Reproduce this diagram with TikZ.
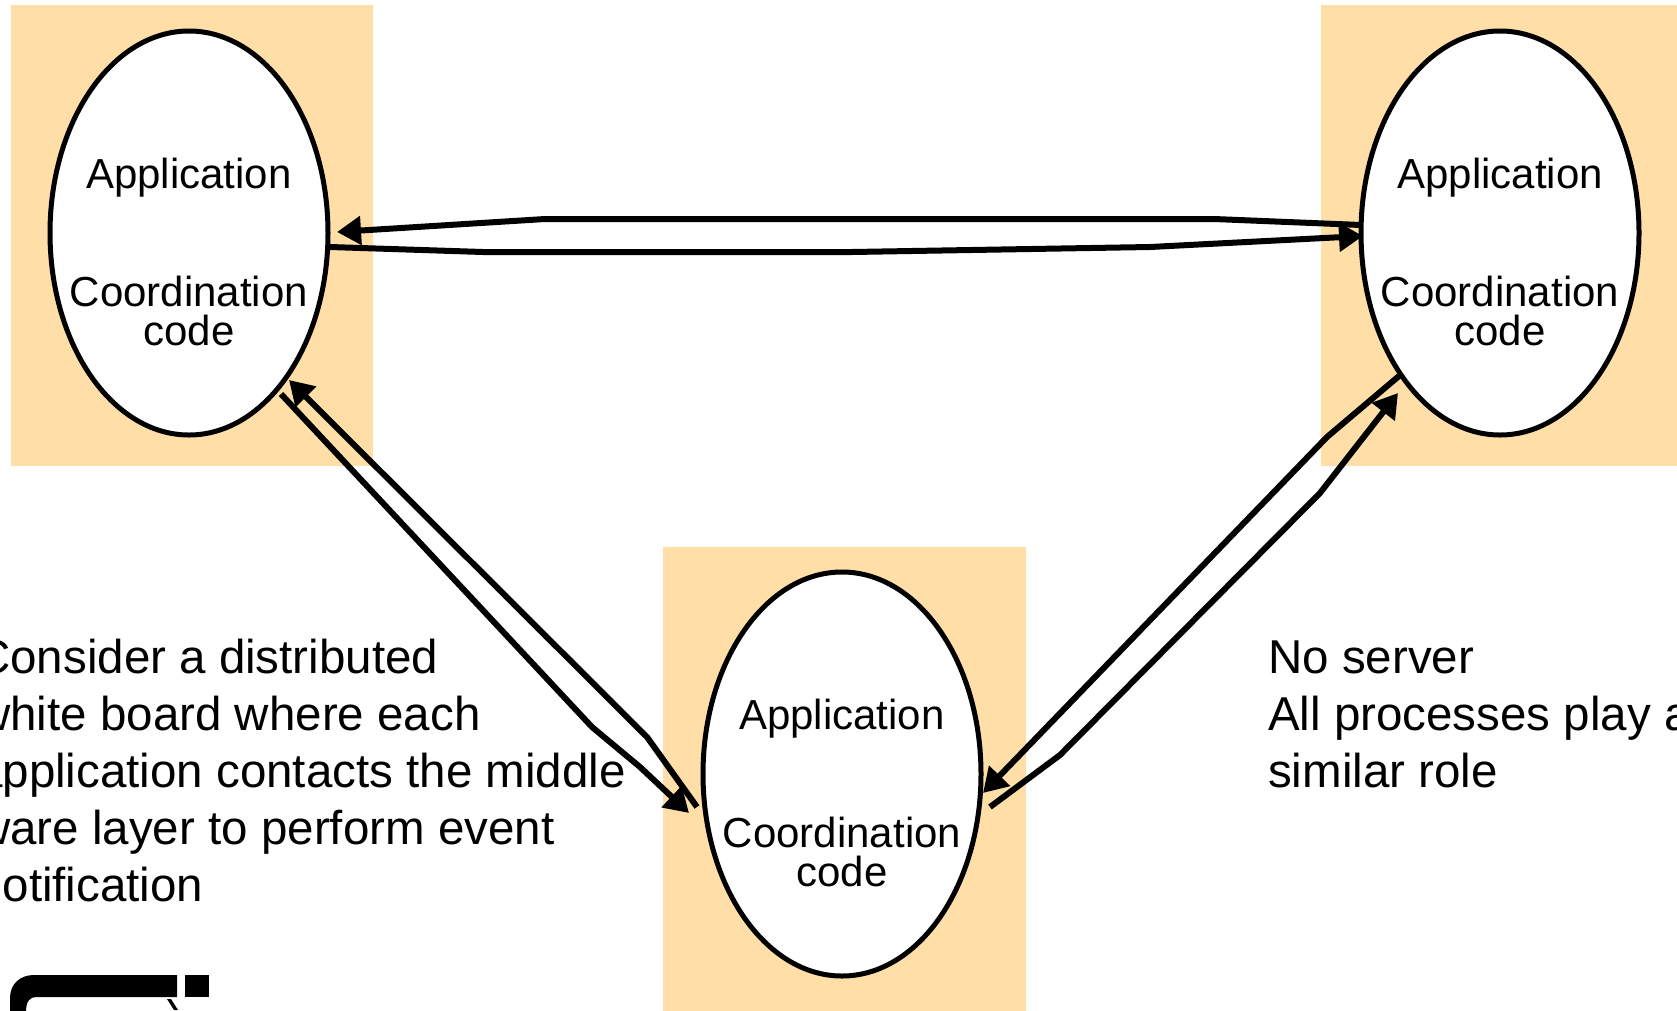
\documentclass[tikz,border=0pt]{standalone}
\usepackage{fontspec}
\setmainfont{Liberation Sans}
\usetikzlibrary{arrows.meta,shapes.geometric,calc}
\definecolor{procbg}{RGB}{255,223,167}
\begin{document}
\begin{tikzpicture}[x=1pt,y=-1pt,
  proc/.style={ellipse,draw=black,line width=5pt,fill=white,minimum width=278pt,minimum height=404pt,inner sep=0pt,outer sep=0pt},
  lbl/.style={anchor=base,inner sep=0pt,font=\fontsize{42}{42}\selectfont},
  side/.style={anchor=base west,inner sep=0pt,font=\fontsize{47.5}{57}\selectfont},
  conn/.style={line width=6pt,line join=round},
  tipped/.style={-{Triangle[length=24pt,width=28pt]}}
]
\useasboundingbox (0,0) rectangle (1677,1010);
\clip (0,0) rectangle (1677,1010);
\fill[white] (0,0) rectangle (1677,1010);

% process backgrounds
\fill[procbg] (11,5) rectangle (373,466);
\fill[procbg] (1321,5) rectangle (1680,466);
\fill[procbg] (663,547) rectangle (1026,1012);

% processes
\node[proc] (L) at (189,233) {};
\node[proc] (R) at (1500,233) {};
\node[proc] (B) at (842,774) {};

\foreach \n in {L,R,B}{
  \node[lbl] (\n-app) at ($(\n)+(0,-45)$) {Application};
  \node[lbl] (\n-coord) at ($(\n)+(0,73)$) {Coordination};
  \node[lbl] (\n-code) at ($(\n)+(0,112)$) {code};
}

% connectors L <-> R
\draw[conn,tipped] ($(R)+(-139,-8)$) -- (1214,219) -- (545,219) -- ($(L)+(148,-1)$);
\draw[conn,tipped] ($(L)+(141,14)$) -- (483,252) -- (852,252) -- (1150,247) -- ($(R)+(-137,3)$);

% connectors L <-> B
\draw[conn,tipped] ($(B)+(-145,33)$) -- (647,737) -- ($(L)+(100,147)$);
\draw[conn,tipped] ($(L)+(92,161)$) -- (592,727) -- (640,767) -- ($(B)+(-153,39)$);

% connectors R <-> B
\draw[conn,tipped] ($(R)+(-101,143)$) -- (1327,437) -- ($(B)+(141,19)$);
\draw[conn,tipped] ($(B)+(148,33)$) -- (1060,755) -- (1320,493) -- ($(R)+(-102,160)$);

% side texts
\node[side] (t1) at (-24,673) {Consider a distributed};
\node[side] (t2) at (-24,730) {white board where each};
\node[side] (t3) at (-24,787) {application contacts the middle};
\node[side] (t4) at (-24,844) {ware layer to perform event};
\node[side] (t5) at (-24,901) {notification};

\node[side] (n1) at (1268,673) {No server};
\node[side] (n2) at (1268,730) {All processes play a};
\node[side] (n3) at (1268,787) {similar role};

% logo fragment
\fill (10,1012) -- (10,998) .. controls (10,984) and (20,975) .. (34,975) -- (177,975) -- (177,997) -- (36,997) .. controls (30,997) and (26,1001) .. (26,1012) -- cycle;
\fill (185,975) rectangle (209,997);
\fill (167,999) -- (171,999) -- (178,1010) -- (174,1010) -- cycle;
\end{tikzpicture}
\end{document}
